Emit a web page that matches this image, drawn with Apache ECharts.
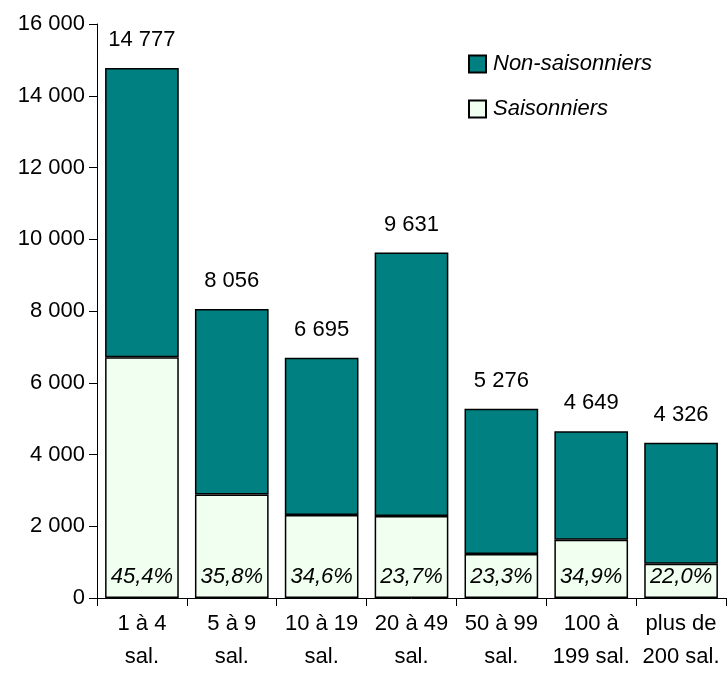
<!DOCTYPE html>
<html lang="fr">
<head>
    <meta charset="utf-8">
    <title>Saisonniers par taille d'établissement</title>
    <script src="https://cdn.jsdelivr.net/npm/echarts@6/dist/echarts.min.js"></script>
    <style>
        html, body { margin: 0; padding: 0; background: #fff; }
        #container { width: 727px; height: 682px; }
    </style>
</head>
<body>
<div id="container"></div>
<script>
    var categories = ['1 à 4\nsal.', '5 à 9\nsal.', '10 à 19\nsal.', '20 à 49\nsal.', '50 à 99\nsal.', '100 à\n199 sal.', 'plus de\n200 sal.'];
    var saisonniers = [6709, 2884, 2316, 2283, 1229, 1622, 952];
    var nonSaisonniers = [8068, 5172, 4379, 7348, 4047, 3027, 3374];
    var totals = [14777, 8056, 6695, 9631, 5276, 4649, 4326];
    var parts = ['45,4%', '35,8%', '34,6%', '23,7%', '23,3%', '34,9%', '22,0%'];
    var yTicks = [0, 2000, 4000, 6000, 8000, 10000, 12000, 14000, 16000];

    var font = '"Liberation Sans Narrow", "Arial Narrow", "Liberation Sans", sans-serif';

    // espace comme séparateur des milliers
    function fmt(v) {
        return String(v).replace(/\B(?=(\d{3})+(?!\d))/g, ' ');
    }

    var myChart = echarts.init(document.getElementById('container'));
    var option = {
        animation: false,
        textStyle: { fontFamily: font },
        grid: { left: 97, right: 1, top: 24, bottom: 84 },
        legend: {
            orient: 'vertical',
            left: 463,
            top: 48,
            itemWidth: 17,
            itemHeight: 17,
            itemGap: 23,
            icon: 'rect',
            textStyle: { fontFamily: font, fontSize: 22, fontStyle: 'italic', color: '#000', padding: [0, 0, 0, 2] },
            data: ['Non-saisonniers', 'Saisonniers']
        },
        xAxis: {
            type: 'category',
            data: categories,
            axisLine: { lineStyle: { color: '#000', width: 1 } },
            axisTick: { show: true, length: 8, lineStyle: { color: '#000' } },
            axisLabel: { fontFamily: font, fontSize: 22, color: '#000', lineHeight: 33, margin: 9, interval: 0 }
        },
        yAxis: {
            type: 'value',
            min: yTicks[0],
            max: yTicks[yTicks.length - 1],
            interval: 2000,
            splitLine: { show: false },
            axisLine: { show: true, lineStyle: { color: '#000', width: 1 } },
            axisTick: { show: true, length: 8, lineStyle: { color: '#000' } },
            axisLabel: { fontFamily: font, fontSize: 22, color: '#000', margin: 12, formatter: fmt }
        },
        series: [
            {
                name: 'Saisonniers',
                type: 'bar',
                stack: 'tot',
                barCategoryGap: '18%',
                data: saisonniers,
                itemStyle: { color: '#f0fff0', borderColor: '#000', borderWidth: 1.5 },
                label: {
                    show: true,
                    position: 'insideBottom',
                    distance: 10,
                    fontFamily: font,
                    fontSize: 22,
                    fontStyle: 'italic',
                    color: '#000',
                    formatter: function (p) { return parts[p.dataIndex]; }
                }
            },
            {
                name: 'Non-saisonniers',
                type: 'bar',
                stack: 'tot',
                barCategoryGap: '18%',
                data: nonSaisonniers,
                itemStyle: { color: '#008080', borderColor: '#000', borderWidth: 1.5 },
                label: {
                    show: true,
                    position: 'top',
                    distance: 17,
                    fontFamily: font,
                    fontSize: 22,
                    color: '#000',
                    formatter: function (p) { return fmt(totals[p.dataIndex]); }
                }
            }
        ]
    };
    myChart.setOption(option);
</script>
</body>
</html>
